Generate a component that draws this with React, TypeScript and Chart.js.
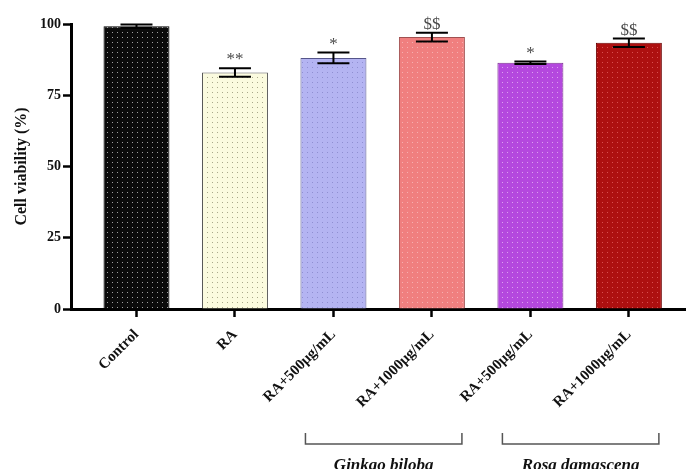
import React, { useEffect, useRef } from "react";
import { Chart, registerables } from "chart.js";

Chart.register(...registerables);

const categories = ["Control", "RA", "RA+500μg/mL", "RA+1000μg/mL", "RA+500μg/mL", "RA+1000μg/mL"];
const viability = [99.2, 83.0, 88.1, 95.4, 86.4, 93.4];
const sem = [0.6, 1.5, 1.9, 1.5, 0.4, 1.5];
const significance = ["", "**", "*", "$$", "*", "$$"];
const yTicks = [0, 25, 50, 75, 100];
const groupNames = ["Ginkgo biloba", "Rosa damascena"];
const groupStart = [2, 4];
const groupEnd = [3, 5];

const fillColors = ["#0b0b0b", "#fbfbdf", "#b4b4f2", "#f07f7f", "#b448de", "#ad1010"];
const dotColors = ["#a0a0a0", "#a8a88a", "#8f8fd2", "#f6b0b0", "#dca0f0", "#d85050"];
const borderColors = ["#000000", "#555555", "#55558a", "#a05050", "#7a3090", "#6a0000"];

const SERIF = "'Liberation Serif', 'Times New Roman', serif";

function makePattern(base: string, dot: string) {
  const c = document.createElement("canvas");
  c.width = 5;
  c.height = 5;
  const g = c.getContext("2d")!;
  g.fillStyle = base;
  g.fillRect(0, 0, 5, 5);
  g.fillStyle = dot;
  g.fillRect(2, 2, 1, 1);
  return g.createPattern(c, "repeat") as CanvasPattern;
}

const extrasPlugin = {
  id: "extras",
  afterDatasetsDraw(chart: any) {
    const ctx = chart.ctx;
    const meta = chart.getDatasetMeta(0);
    const ys = chart.scales.y;
    const xs = chart.scales.x;
    ctx.save();
    meta.data.forEach((bar: any, i: number) => {
      const x = bar.x;
      const top = ys.getPixelForValue(viability[i] + sem[i]);
      const bot = ys.getPixelForValue(viability[i] - sem[i]);
      ctx.strokeStyle = "#000";
      ctx.lineWidth = 2;
      ctx.beginPath();
      ctx.moveTo(x, top);
      ctx.lineTo(x, bot);
      ctx.moveTo(x - 16, top);
      ctx.lineTo(x + 16, top);
      ctx.moveTo(x - 16, bot);
      ctx.lineTo(x + 16, bot);
      ctx.stroke();
      if (significance[i]) {
        ctx.fillStyle = "#4a4a4a";
        ctx.font = `17px ${SERIF}`;
        ctx.textAlign = "center";
        ctx.textBaseline = "alphabetic";
        ctx.fillText(significance[i], x, top - 4);
      }
    });
    groupNames.forEach((name, g) => {
      const x1 = xs.getPixelForValue(groupStart[g]) - 28;
      const x2 = xs.getPixelForValue(groupEnd[g]) + 30;
      ctx.strokeStyle = "#555";
      ctx.lineWidth = 1.5;
      ctx.beginPath();
      ctx.moveTo(x1, 433);
      ctx.lineTo(x1, 444);
      ctx.lineTo(x2, 444);
      ctx.lineTo(x2, 433);
      ctx.stroke();
      ctx.fillStyle = "#111";
      ctx.font = `italic bold 17px ${SERIF}`;
      ctx.textAlign = "center";
      ctx.textBaseline = "alphabetic";
      ctx.fillText(name, (x1 + x2) / 2, 470);
    });
    ctx.restore();
  },
};

export default function App() {
  const ref = useRef<HTMLCanvasElement | null>(null);
  useEffect(() => {
    if (!ref.current) return;
    const patterns = fillColors.map((c, i) => makePattern(c, dotColors[i]));
    const chart = new Chart(ref.current, {
      type: "bar",
      data: {
        datasets: [
          {
            data: categories.map((_, i) => ({ x: i, y: viability[i] })) as any,
            backgroundColor: patterns as any,
            borderColor: borderColors,
            borderWidth: 1,
            categoryPercentage: 1,
            barPercentage: 0.67,
          },
        ],
      },
      options: {
        animation: false,
        responsive: true,
        maintainAspectRatio: false,
        layout: { padding: { top: 24, right: 0, bottom: 0, left: 0 } },
        plugins: { legend: { display: false }, tooltip: { enabled: false } },
        scales: {
          x: {
            type: "linear",
            offset: false,
            min: -0.665,
            max: 5.58,
            afterBuildTicks: (scale: any) => {
              scale.ticks = categories.map((_, i) => ({ value: i }));
            },
            afterFit: (scale: any) => {
              scale.height = 160;
            },
            grid: { offset: false, drawOnChartArea: false, drawTicks: true, tickLength: 8, tickWidth: 2.5, tickColor: "#000" },
            border: { display: true, width: 3, color: "#000" },
            ticks: {
              autoSkip: false,
              maxRotation: 45,
              minRotation: 45,
              padding: 9,
              color: "#111",
              font: { family: SERIF, size: 15, weight: "bold" },
              callback: (v: any) => categories[Math.round(Number(v))] ?? "",
            },
          },
          y: {
            min: 0,
            max: 100,
            afterBuildTicks: (scale: any) => {
              scale.ticks = yTicks.map((v) => ({ value: v }));
            },
            afterFit: (scale: any) => {
              scale.width = 71;
            },
            grid: { drawOnChartArea: false, drawTicks: true, tickLength: 8, tickWidth: 2.5, tickColor: "#000" },
            border: { display: true, width: 3, color: "#000" },
            ticks: {
              padding: 2,
              color: "#111",
              font: { family: SERIF, size: 14, weight: "bold" },
            },
            title: {
              display: true,
              text: "Cell viability (%)",
              color: "#111",
              font: { family: SERIF, size: 16, weight: "bold" },
              padding: { top: 12, bottom: 0 },
            },
          },
        },
      },
      plugins: [extrasPlugin],
    });
    return () => chart.destroy();
  }, []);
  return (
    <div style={{ position: "absolute", left: 0, top: 0, width: 686, height: 469, background: "#fff" }}>
      <canvas ref={ref} />
    </div>
  );
}
